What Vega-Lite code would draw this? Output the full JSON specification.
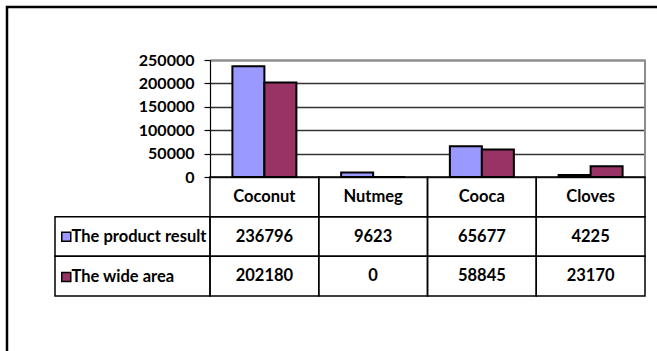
{
  "$schema": "https://vega.github.io/schema/vega-lite/v6.json",
  "width": 660,
  "height": 350,
  "autosize": {"type": "none"},
  "padding": {"left": 7, "top": 7, "right": 0, "bottom": 0},
  "background": "white",
  "datasets": {
    "crops": [
      {"category": "Coconut", "series": "The product result", "value": 236796},
      {"category": "Coconut", "series": "The wide area", "value": 202180},
      {"category": "Nutmeg", "series": "The product result", "value": 9623},
      {"category": "Nutmeg", "series": "The wide area", "value": 0},
      {"category": "Cooca", "series": "The product result", "value": 65677},
      {"category": "Cooca", "series": "The wide area", "value": 58845},
      {"category": "Cloves", "series": "The product result", "value": 4225},
      {"category": "Cloves", "series": "The wide area", "value": 23170}
    ],
    "categories": [
      {"category": "Coconut"},
      {"category": "Nutmeg"},
      {"category": "Cooca"},
      {"category": "Cloves"}
    ],
    "rows": [
      {"series": "The product result"},
      {"series": "The wide area"}
    ]
  },
  "resolve": {
    "scale": {"x": "independent", "y": "independent"},
    "axis": {"x": "independent", "y": "independent"}
  },
  "layer": [
    {
      "data": {"name": "crops"},
      "mark": {"type": "bar", "stroke": "black", "strokeWidth": 2},
      "encoding": {
        "x": {
          "field": "category",
          "type": "nominal",
          "sort": ["Coconut", "Nutmeg", "Cooca", "Cloves"],
          "scale": {"range": [203, 638], "paddingInner": 0.4115, "paddingOuter": 0.206},
          "axis": null
        },
        "xOffset": {
          "field": "series",
          "type": "nominal",
          "scale": {"paddingInner": 0, "paddingOuter": 0}
        },
        "y": {
          "field": "value",
          "type": "quantitative",
          "scale": {"domain": [0, 250000], "nice": false, "range": [170, 53]},
          "axis": {
            "orient": "left",
            "offset": -203,
            "values": [0, 50000, 100000, 150000, 200000, 250000],
            "format": "d",
            "title": null,
            "grid": true,
            "gridColor": "#333333",
            "gridWidth": 1.5,
            "domainColor": "#000000",
            "domainWidth": 1.2,
            "tickColor": "#000000",
            "tickSize": 6,
            "tickWidth": 1.2,
            "labelFontSize": 16,
            "labelFontWeight": "bold",
            "labelColor": "#000000",
            "labelPadding": 10
          }
        },
        "color": {
          "field": "series",
          "type": "nominal",
          "scale": {
            "domain": ["The product result", "The wide area"],
            "range": ["#9999FF", "#993366"]
          },
          "legend": {
            "orient": "none",
            "legendX": 51,
            "legendY": 221.5,
            "title": null,
            "direction": "vertical",
            "symbolType": "square",
            "symbolSize": 81,
            "symbolStrokeColor": "black",
            "symbolStrokeWidth": 1.5,
            "labelFontSize": 16.5,
            "labelFontWeight": "bold",
            "labelColor": "black",
            "labelOffset": -3,
            "labelLimit": 220,
            "rowPadding": 23.2,
            "padding": 0
          }
        }
      }
    },
    {
      "data": {"values": [{}]},
      "mark": {"type": "rule", "color": "#8c8c8c", "strokeWidth": 2},
      "encoding": {
        "x": {
          "datum": "Cloves",
          "type": "nominal",
          "bandPosition": 1,
          "scale": {
            "type": "band",
            "domain": ["Coconut", "Nutmeg", "Cooca", "Cloves"],
            "range": [203, 638],
            "paddingInner": 0,
            "paddingOuter": 0
          },
          "axis": {
            "orient": "top",
            "offset": -53,
            "domainColor": "#8c8c8c",
            "domainWidth": 2,
            "labels": false,
            "ticks": false,
            "grid": false,
            "title": null
          }
        },
        "y": {
          "datum": 0,
          "type": "quantitative",
          "scale": {"domain": [0, 250000], "nice": false, "range": [170, 53]},
          "axis": null
        },
        "y2": {"datum": 250000}
      }
    },
    {
      "encoding": {
        "x": {
          "field": "category",
          "type": "nominal",
          "sort": ["Coconut", "Nutmeg", "Cooca", "Cloves"],
          "scale": {
            "type": "band",
            "domain": ["Coconut", "Nutmeg", "Cooca", "Cloves"],
            "range": [203, 638],
            "paddingInner": 0,
            "paddingOuter": 0
          },
          "axis": null
        }
      },
      "layer": [
        {
          "data": {"name": "crops"},
          "mark": {"type": "rect", "filled": false, "stroke": "black", "strokeWidth": 1.5},
          "encoding": {
            "y": {
              "field": "series",
              "type": "nominal",
              "scale": {
                "type": "band",
                "domain": ["header", "The product result", "The wide area"],
                "range": [170, 289],
                "paddingInner": 0,
                "paddingOuter": 0
              },
              "axis": null
            }
          }
        },
        {
          "data": {"name": "categories"},
          "mark": {"type": "rect", "filled": false, "stroke": "black", "strokeWidth": 1.5},
          "encoding": {
            "y": {"datum": "header", "type": "nominal"}
          }
        },
        {
          "data": {"name": "crops"},
          "mark": {"type": "text", "fontSize": 16.5, "fontWeight": "bold", "color": "black"},
          "encoding": {
            "y": {"field": "series", "type": "nominal"},
            "text": {"field": "value", "type": "quantitative", "format": "d"}
          }
        },
        {
          "data": {"name": "categories"},
          "mark": {"type": "text", "fontSize": 16.5, "fontWeight": "bold", "color": "black"},
          "encoding": {
            "y": {"datum": "header", "type": "nominal"},
            "text": {"field": "category", "type": "nominal"}
          }
        }
      ]
    },
    {
      "data": {"name": "rows"},
      "mark": {"type": "rect", "filled": false, "stroke": "black", "strokeWidth": 1.5},
      "encoding": {
        "x": {
          "datum": "label",
          "type": "nominal",
          "scale": {"type": "band", "range": [48, 203], "paddingInner": 0, "paddingOuter": 0},
          "axis": null
        },
        "y": {
          "field": "series",
          "type": "nominal",
          "scale": {
            "type": "band",
            "domain": ["header", "The product result", "The wide area"],
            "range": [170, 289],
            "paddingInner": 0,
            "paddingOuter": 0
          },
          "axis": null
        }
      }
    }
  ],
  "config": {
    "font": "Lato",
    "view": {"stroke": "black", "strokeWidth": 2.5}
  }
}
